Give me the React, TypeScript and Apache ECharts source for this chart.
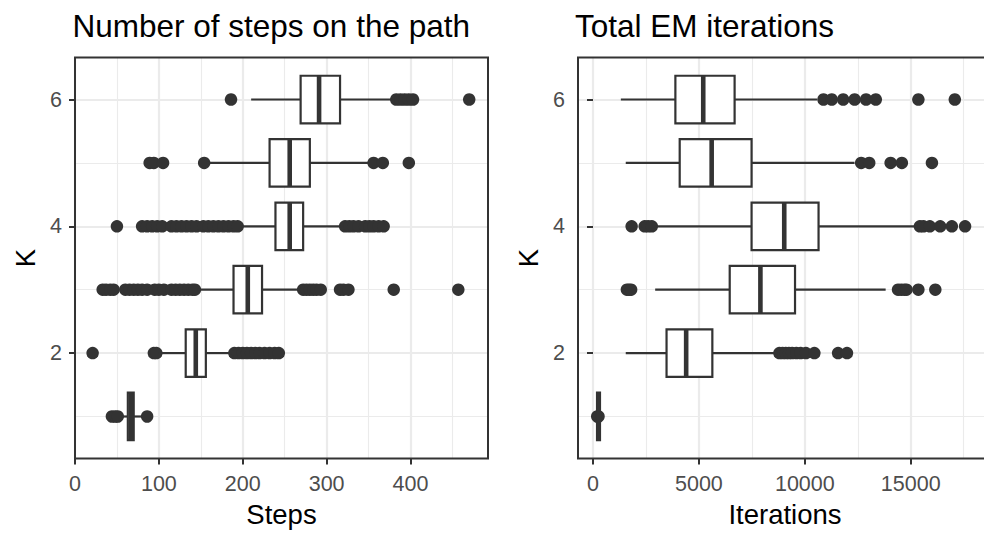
import React, { useEffect, useRef } from "react";
import * as echarts from "echarts";

// ---------- data ----------
const K_VALUES = [1, 2, 3, 4, 5, 6];
const K_TICKS = [2, 4, 6];

// Panel 1: Number of steps on the path
const STEPS_TICKS = [0, 100, 200, 300, 400];
const stepsLower = [55, 100, 146, 198, 157, 210];
const stepsQ1 = [63, 132, 189, 239, 232, 269];
const stepsMedian = [67, 144, 206, 256, 256, 291];
const stepsQ3 = [70, 156, 223, 272, 280, 316];
const stepsUpper = [80, 187, 268, 317, 350, 378];
const stepsOutliers: number[][] = [
  [44, 48, 51, 86],
  [21, 94, 97, 190, 195, 200, 205, 210, 215, 220, 226, 232, 238, 243],
  [33, 37, 42, 46, 60, 65, 70, 75, 80, 86, 95, 100, 106, 115, 120, 125, 130, 135, 140, 143,
    272, 276, 280, 284, 288, 293, 316, 320, 326, 380, 457],
  [50, 80, 86, 92, 98, 104, 115, 121, 127, 133, 139, 145, 153, 159, 165, 171, 177, 183, 189, 194,
    322, 327, 332, 338, 346, 351, 356, 362, 368],
  [89, 94, 105, 154, 356, 367, 398],
  [186, 383, 388, 393, 398, 403, 470],
];

// Panel 2: Total EM iterations
const ITER_TICKS = [0, 5000, 10000, 15000];
const iterLower = [150, 1546, 2935, 3009, 1546, 1315];
const iterQ1 = [190, 3472, 6454, 7486, 4093, 3889];
const iterMedian = [260, 4398, 7903, 9028, 5602, 5204];
const iterQ3 = [330, 5634, 9537, 10648, 7486, 6685];
const iterUpper = [380, 8700, 13815, 15204, 12347, 10574];
const iterOutliers: number[][] = [
  [200, 260],
  [8800, 8950, 9100, 9250, 9400, 9600, 9800, 10050, 10450, 11570, 11990],
  [1600, 1700, 1800, 14400, 14550, 14700, 14800, 15360, 16160],
  [1824, 2440, 2600, 2778, 15430, 15600, 15900, 16390, 16940, 17565],
  [12660, 13040, 14050, 14580, 16000],
  [10880, 11270, 11810, 12350, 12890, 13350, 15360, 17080],
];

// ---------- styling / layout ----------
const INK = "#333333";
const GRID_COLOR = "#EBEBEB";
const FONT = "'Liberation Sans', Arial, Helvetica, sans-serif";
const BOX_HALF = 0.375;
const PANEL_TOP = 57.5;
const PANEL_H = 401;
const P1 = { left: 75, width: 413 };
const P2 = { left: 578, width: 414 };

const buildBoxes = (lo: number[], q1: number[], med: number[], q3: number[], hi: number[]) =>
  K_VALUES.map((k, i) => [k, lo[i], q1[i], med[i], q3[i], hi[i]]);

const buildOutliers = (list: number[][]) =>
  list.flatMap((arr, i) => arr.map((v) => [v, K_VALUES[i]]));

const renderBox = (_params: any, api: any) => {
  const k = api.value(0);
  const lo = api.value(1);
  const q1 = api.value(2);
  const med = api.value(3);
  const q3 = api.value(4);
  const hi = api.value(5);
  const yTop = api.coord([q1, k + BOX_HALF])[1];
  const yBot = api.coord([q1, k - BOX_HALF])[1];
  const yMid = api.coord([q1, k])[1];
  const xLo = api.coord([lo, k])[0];
  const xQ1 = api.coord([q1, k])[0];
  const xMed = api.coord([med, k])[0];
  const xQ3 = api.coord([q3, k])[0];
  const xHi = api.coord([hi, k])[0];
  return {
    type: "group",
    children: [
      { type: "line", shape: { x1: xLo, y1: yMid, x2: xQ1, y2: yMid }, style: { stroke: INK, lineWidth: 2.2 } },
      { type: "line", shape: { x1: xQ3, y1: yMid, x2: xHi, y2: yMid }, style: { stroke: INK, lineWidth: 2.2 } },
      {
        type: "rect",
        shape: { x: xQ1, y: yTop, width: xQ3 - xQ1, height: yBot - yTop },
        style: { fill: "#ffffff", stroke: INK, lineWidth: 2.2 },
      },
      { type: "line", shape: { x1: xMed, y1: yTop, x2: xMed, y2: yBot }, style: { stroke: INK, lineWidth: 4.6 } },
    ],
  };
};

const plainNumber = (v: number) => String(v);

const yAxisFor = (gridIndex: number) => ({
  type: "value",
  gridIndex,
  min: 0.3375,
  max: 6.6625,
  splitNumber: 3,
  axisLine: { show: false },
  axisTick: { show: true, customValues: K_TICKS, length: 6, lineStyle: { color: INK, width: 2 } },
  axisLabel: {
    customValues: K_TICKS,
    margin: 13,
    color: "#4D4D4D",
    fontSize: 21.5,
    fontFamily: FONT,
    formatter: plainNumber,
  },
  splitLine: { show: true, lineStyle: { color: GRID_COLOR, width: 2.2 } },
  minorTick: { show: false, splitNumber: 2 },
  minorSplitLine: { show: true, lineStyle: { color: GRID_COLOR, width: 1.1 } },
});

const xAxisFor = (gridIndex: number, min: number, max: number, splitNumber: number, ticks: number[]) => ({
  type: "value",
  gridIndex,
  min,
  max,
  splitNumber,
  axisLine: { show: false },
  axisTick: { show: true, customValues: ticks, length: 6, lineStyle: { color: INK, width: 2 } },
  axisLabel: {
    customValues: ticks,
    margin: 14,
    color: "#4D4D4D",
    fontSize: 21.5,
    fontFamily: FONT,
    formatter: plainNumber,
  },
  splitLine: { show: true, lineStyle: { color: GRID_COLOR, width: 2.2 } },
  minorTick: { show: false, splitNumber: 2 },
  minorSplitLine: { show: true, lineStyle: { color: GRID_COLOR, width: 1.1 } },
});

const textEl = (text: string, x: number, y: number, size: number, align: string, rotation = 0) => ({
  type: "text",
  x,
  y,
  rotation,
  z: 100,
  style: { text, fill: "#000000", fontSize: size, fontFamily: FONT, align, verticalAlign: "middle" },
});

export default function App() {
  const ref = useRef<HTMLDivElement>(null);

  useEffect(() => {
    if (!ref.current) return;
    const chart = echarts.init(ref.current, null, { renderer: "svg" });
    const option: any = {
      animation: false,
      backgroundColor: "#ffffff",
      grid: [
        { left: P1.left, width: P1.width, top: PANEL_TOP, height: PANEL_H, show: false },
        { left: P2.left, width: P2.width, top: PANEL_TOP, height: PANEL_H, show: false },
      ],
      xAxis: [
        xAxisFor(0, 0, 492.4, 5, STEPS_TICKS),
        xAxisFor(1, -708, 18458, 4, ITER_TICKS),
      ],
      yAxis: [yAxisFor(0), yAxisFor(1)],
      series: [
        {
          type: "scatter",
          xAxisIndex: 0,
          yAxisIndex: 0,
          data: buildOutliers(stepsOutliers),
          symbolSize: 12.5,
          itemStyle: { color: INK, opacity: 1 },
          z: 2,
        },
        {
          type: "custom",
          xAxisIndex: 0,
          yAxisIndex: 0,
          data: buildBoxes(stepsLower, stepsQ1, stepsMedian, stepsQ3, stepsUpper),
          renderItem: renderBox,
          z: 3,
        },
        {
          type: "scatter",
          xAxisIndex: 1,
          yAxisIndex: 1,
          data: buildOutliers(iterOutliers),
          symbolSize: 12.5,
          itemStyle: { color: INK, opacity: 1 },
          z: 2,
        },
        {
          type: "custom",
          xAxisIndex: 1,
          yAxisIndex: 1,
          data: buildBoxes(iterLower, iterQ1, iterMedian, iterQ3, iterUpper),
          renderItem: renderBox,
          z: 3,
        },
      ],
      graphic: [
        {
          type: "rect",
          z: 90,
          shape: { x: P1.left, y: PANEL_TOP, width: P1.width, height: PANEL_H },
          style: { fill: "none", stroke: INK, lineWidth: 2 },
        },
        {
          type: "rect",
          z: 90,
          shape: { x: P2.left, y: PANEL_TOP, width: P2.width, height: PANEL_H },
          style: { fill: "none", stroke: INK, lineWidth: 2 },
        },
        textEl("Number of steps on the path", 72.5, 26.1, 31.5, "left"),
        textEl("Total EM iterations", 575, 26.1, 31.5, "left"),
        textEl("Steps", P1.left + P1.width / 2, 514.5, 27.5, "center"),
        textEl("Iterations", P2.left + P2.width / 2, 514.5, 27.5, "center"),
        textEl("K", 25.3, PANEL_TOP + PANEL_H / 2, 27.5, "center", Math.PI / 2),
        textEl("K", 528.3, PANEL_TOP + PANEL_H / 2, 27.5, "center", Math.PI / 2),
      ],
    };
    chart.setOption(option);
    return () => chart.dispose();
  }, []);

  return (
    <div
      ref={ref}
      style={{ position: "absolute", left: 0, top: 0, width: 984, height: 534, background: "#ffffff" }}
    />
  );
}
